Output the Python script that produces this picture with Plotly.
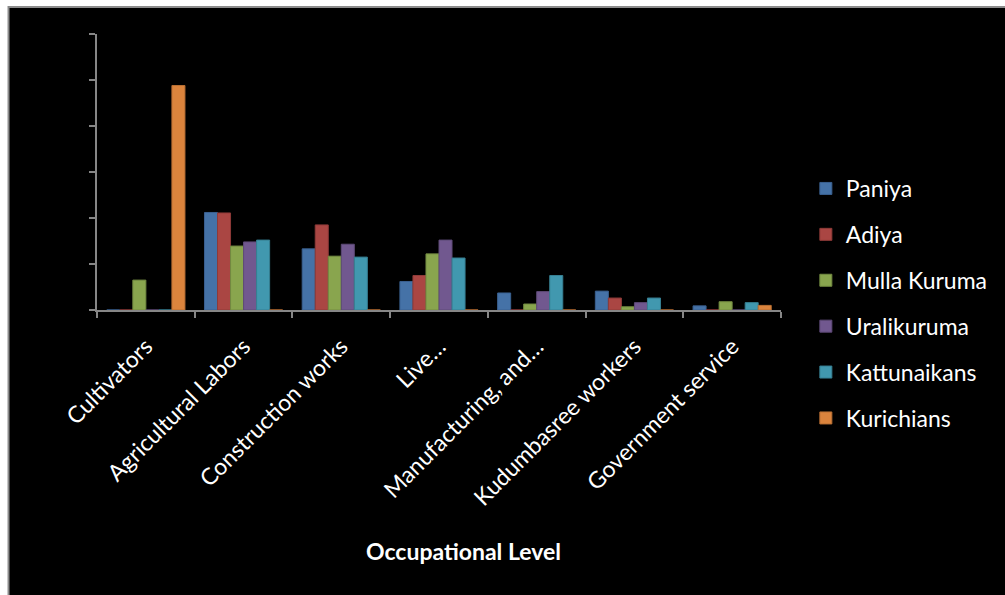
import plotly.graph_objects as go

categories = ["Cultivators", "Agricultural Labors", "Construction works", "Live…",
              "Manufacturing, and…", "Kudumbasree workers", "Government service"]

paniya = [0, 21.2, 13.3, 6.2, 3.7, 4.1, 0.9]
adiya = [0, 21.1, 18.5, 7.5, 0, 2.6, 0]
mulla_kuruma = [6.5, 13.9, 11.7, 12.2, 1.3, 0.7, 1.8]
uralikuruma = [0, 14.8, 14.3, 15.2, 4.0, 1.6, 0]
kattunaikans = [0, 15.2, 11.5, 11.3, 7.5, 2.6, 1.6]
kurichians = [48.8, 0, 0, 0, 0, 0, 1.0]

series_names = ["Paniya", "Adiya", "Mulla Kuruma", "Uralikuruma", "Kattunaikans", "Kurichians"]
series_values = [paniya, adiya, mulla_kuruma, uralikuruma, kattunaikans, kurichians]
colors = ["#4572A7", "#AA4643", "#89A54E", "#71588F", "#4198AF", "#DB843D"]
edges = ["#3A6090", "#8E3A38", "#728A41", "#5E4A77", "#367F92", "#B86F33"]

W, H = 1005, 595
L, R, T, B = 97, 785, 34, 310
pw, ph = R - L, B - T


def px(x):
    return (x - L) / pw


def py(y):
    return (B - y) / ph


fig = go.Figure()
for i, (name, vals) in enumerate(zip(series_names, series_values)):
    fig.add_trace(go.Bar(
        x=categories, y=vals, name=name, legendgroup=name,
        marker=dict(color=colors[i], line=dict(color=edges[i], width=1)),
    ))

font_family = "Lato"
fig.update_layout(
    width=W, height=H,
    margin=dict(l=L, r=W - R, t=T, b=H - B, pad=0),
    paper_bgcolor="white",
    plot_bgcolor="black",
    barmode="group",
    bargap=0.2,
    bargroupgap=0,
    hovermode=False,
    font=dict(family=font_family, color="white", size=23),
    legend=dict(
        x=px(810), y=py(167), xanchor="left", yanchor="top",
        font=dict(family=font_family, size=23, color="white"),
        bgcolor="rgba(0,0,0,0)", tracegroupgap=13, traceorder="grouped",
        maxheight=500,
    ),
    xaxis=dict(
        type="category", tickson="boundaries", ticks="outside", ticklen=6,
        tickcolor="#868686", tickwidth=2, showline=True, linecolor="#868686",
        linewidth=2, tickangle=-45, showgrid=False, zeroline=False,
        ticklabelstandoff=12,
        tickfont=dict(family=font_family, size=23, color="white"),
    ),
    yaxis=dict(
        range=[0, 60], dtick=10, ticks="outside", ticklen=6, tickcolor="#868686",
        tickwidth=2, showline=True, linecolor="#868686", linewidth=2,
        showticklabels=False, showgrid=False, zeroline=False,
    ),
    shapes=[dict(
        type="rect", xref="paper", yref="paper", layer="below",
        x0=px(8), x1=px(1012), y0=py(605), y1=py(7),
        fillcolor="black", line=dict(color="#8C8C8C", width=2),
    )],
    annotations=[dict(
        text="<b>Occupational Level</b>", xref="paper", yref="paper",
        x=px(466), y=py(551), showarrow=False, xanchor="center", yanchor="middle",
        font=dict(family=font_family, size=23, color="white"),
    )],
)

fig.write_html("out.html")
